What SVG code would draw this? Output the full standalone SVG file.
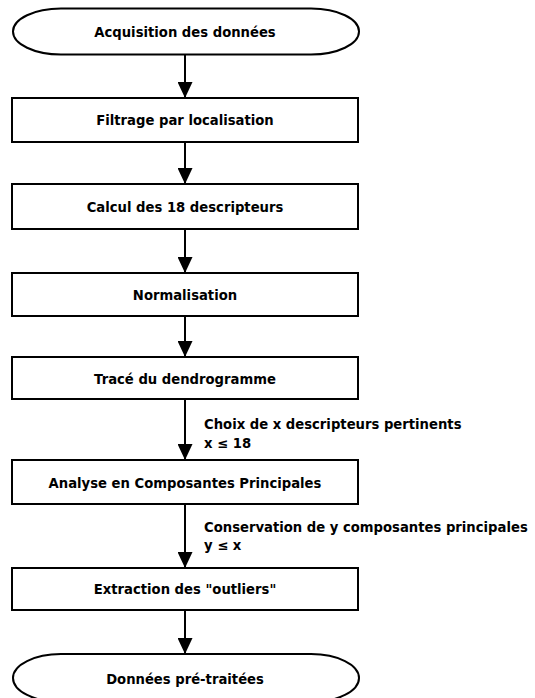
<svg xmlns="http://www.w3.org/2000/svg" width="535" height="698" viewBox="0 0 535 698">
<defs>
<style>
.shape{fill:#fff;stroke:#000;stroke-width:2}
.t{font-family:"DejaVu Sans","Verdana",sans-serif;font-weight:bold;font-size:13.2px;fill:#000}
.c{text-anchor:middle}
.edge{stroke:#000;stroke-width:2;fill:none;marker-end:url(#ah)}
</style>
<marker id="ah" viewBox="0 0 16 15" refX="16" refY="7.5" markerWidth="16" markerHeight="15" orient="auto" markerUnits="userSpaceOnUse">
<path d="M0,0 L16,7.5 L0,15 z" fill="#000"/>
</marker>
</defs>
<rect width="535" height="698" fill="#fff"/>
<g id="connectors">
<line class="edge" x1="185" y1="55" x2="185" y2="98"/>
<line class="edge" x1="185" y1="142" x2="185" y2="184"/>
<line class="edge" x1="185" y1="229" x2="185" y2="273"/>
<line class="edge" x1="185" y1="316" x2="185" y2="357"/>
<line class="edge" x1="185" y1="399" x2="185" y2="460"/>
<line class="edge" x1="185" y1="504" x2="185" y2="568"/>
<line class="edge" x1="185" y1="610" x2="185" y2="654"/>
<text class="t" x="204" y="429">Choix de x descripteurs pertinents</text>
<text class="t" x="204" y="448">x ≤ 18</text>
<text class="t" x="204" y="532">Conservation de y composantes principales</text>
<text class="t" x="204" y="550">y ≤ x</text>
</g>
<g id="n-acquisition">
<path class="shape" d="M61,8.5 H311 A48,23 0 0 1 311,54.5 H61 A48,23 0 0 1 61,8.5 Z"/>
<text class="t c" x="185" y="37">Acquisition des données</text>
</g>
<g id="n-filtrage">
<rect class="shape" x="12" y="98" width="346" height="44"/>
<text class="t c" x="185" y="125">Filtrage par localisation</text>
</g>
<g id="n-calcul">
<rect class="shape" x="12" y="184" width="346" height="45"/>
<text class="t c" x="185" y="212">Calcul des 18 descripteurs</text>
</g>
<g id="n-normalisation">
<rect class="shape" x="12" y="273" width="346" height="43"/>
<text class="t c" x="185" y="300">Normalisation</text>
</g>
<g id="n-trace">
<rect class="shape" x="12" y="357" width="346" height="42"/>
<text class="t c" x="185" y="383.5">Tracé du dendrogramme</text>
</g>
<g id="n-acp">
<rect class="shape" x="12" y="460" width="346" height="44"/>
<text class="t c" x="185" y="487.5">Analyse en Composantes Principales</text>
</g>
<g id="n-extraction">
<rect class="shape" x="12" y="568" width="346" height="42"/>
<text class="t c" x="185" y="594">Extraction des "outliers"</text>
</g>
<g id="n-donnees">
<path class="shape" d="M61,654 H311 A48,24 0 0 1 311,702 H61 A48,24 0 0 1 61,654 Z"/>
<text class="t c" x="185" y="684">Données pré-traitées</text>
</g>
</svg>
